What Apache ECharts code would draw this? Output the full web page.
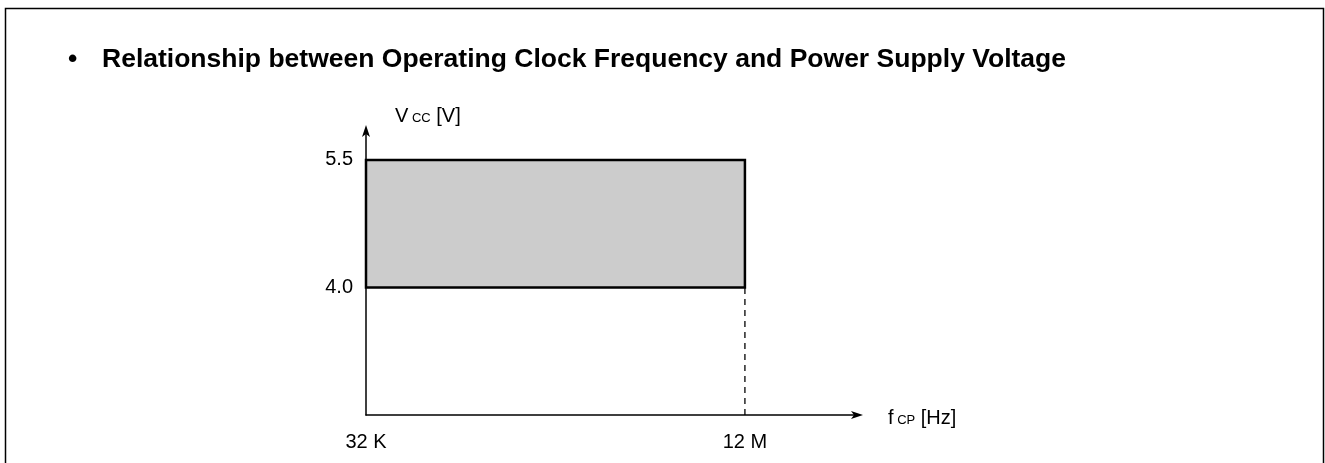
<!DOCTYPE html>
<html>
<head>
<meta charset="utf-8">
<script src="https://cdn.jsdelivr.net/npm/echarts@6/dist/echarts.min.js"></script>
<style>
html,body{margin:0;padding:0;background:#fff;}
#chart{width:1325px;height:463px;}
</style>
</head>
<body>
<div id="chart"></div>
<script>
// ---- data ----
var titleText = 'Relationship between Operating Clock Frequency and Power Supply Voltage';
var freqMHz = [0.032, 12];            // 32 kHz .. 12 MHz (operating range)
var freqLabels = ['32 K', '12 M'];
var vccRange = [4.0, 5.5];            // operating voltage range
var vccTicks = [4.0, 5.5];
var xAxisMin = 0.032, xAxisMax = 15.54;
var yAxisMin = 2.5, yAxisMax = 5.84;

var FONT = '"Liberation Sans", Arial, sans-serif';

var chart = echarts.init(document.getElementById('chart'), null, {renderer: 'canvas'});
chart.setOption({
  animation: false,
  backgroundColor: '#fff',
  title: {
    left: 63, top: 41,
    text: '{b|•}{t|' + titleText + '}',
    textStyle: {
      rich: {
        b: {fontFamily: FONT, fontSize: 26.5, fontWeight: 'bold', color: '#000', width: 34},
        t: {fontFamily: FONT, fontSize: 26.5, fontWeight: 'bold', color: '#000'}
      }
    }
  },
  graphic: [{
    type: 'polyline',
    shape: {points: [[5.5, 463], [5.5, 8.5], [1323.5, 8.5], [1323.5, 463]]},
    style: {stroke: '#000', lineWidth: 1.5, fill: null},
    silent: true
  }],
  grid: {left: 366, right: 1325 - 857, top: 131, bottom: 463 - 415, containLabel: false},
  xAxis: {
    type: 'value', min: xAxisMin, max: xAxisMax,
    splitLine: {show: false},
    axisLine: {show: true, symbol: ['none', 'arrow'], symbolSize: [6, 12], symbolOffset: [0, 6], lineStyle: {color: '#000', width: 1.5}},
    axisTick: {show: false},
    axisLabel: {
      show: true, customValues: freqMHz, margin: 17,
      fontFamily: FONT, fontSize: 20, color: '#000',
      formatter: function (v) { var i = freqMHz.indexOf(v); return i >= 0 ? freqLabels[i] : ''; }
    },
    name: '{n|f}{s| CP}{n| [Hz]}',
    nameLocation: 'end', nameGap: 31,
    nameTextStyle: {
      padding: [6, 0, 0, 0],
      rich: {
        n: {fontFamily: FONT, fontSize: 20, color: '#000'},
        s: {fontFamily: FONT, fontSize: 13, color: '#000', padding: [4, 0, 0, 0]}
      }
    }
  },
  yAxis: {
    type: 'value', min: yAxisMin, max: yAxisMax,
    splitLine: {show: false},
    axisLine: {show: true, symbol: ['none', 'arrow'], symbolSize: [6, 12], symbolOffset: [0, 6], lineStyle: {color: '#000', width: 1.5}},
    axisTick: {show: false},
    axisLabel: {
      show: true, customValues: vccTicks, margin: 13,
      fontFamily: FONT, fontSize: 20, color: '#000',
      formatter: function (v) { return v.toFixed(1); }
    },
    name: '{n|V}{s| CC}{n| [V]}',
    nameLocation: 'end', nameGap: 5,
    nameTextStyle: {
      align: 'left', padding: [0, 0, 0, 29],
      rich: {
        n: {fontFamily: FONT, fontSize: 20, color: '#000'},
        s: {fontFamily: FONT, fontSize: 13, color: '#000', padding: [4, 0, 0, 0]}
      }
    }
  },
  series: [{
    type: 'line',
    data: [[freqMHz[1], yAxisMin], [freqMHz[1], vccRange[0]]],
    symbol: 'none',
    lineStyle: {color: '#000', width: 1.3, type: [6, 5]},
    silent: true,
    z: 1,
    markArea: {
      silent: true,
      itemStyle: {color: '#cccccc', borderColor: '#000', borderWidth: 2.5},
      data: [[{coord: [freqMHz[0], vccRange[0]]}, {coord: [freqMHz[1], vccRange[1]]}]]
    }
  }]
});
</script>
</body>
</html>
